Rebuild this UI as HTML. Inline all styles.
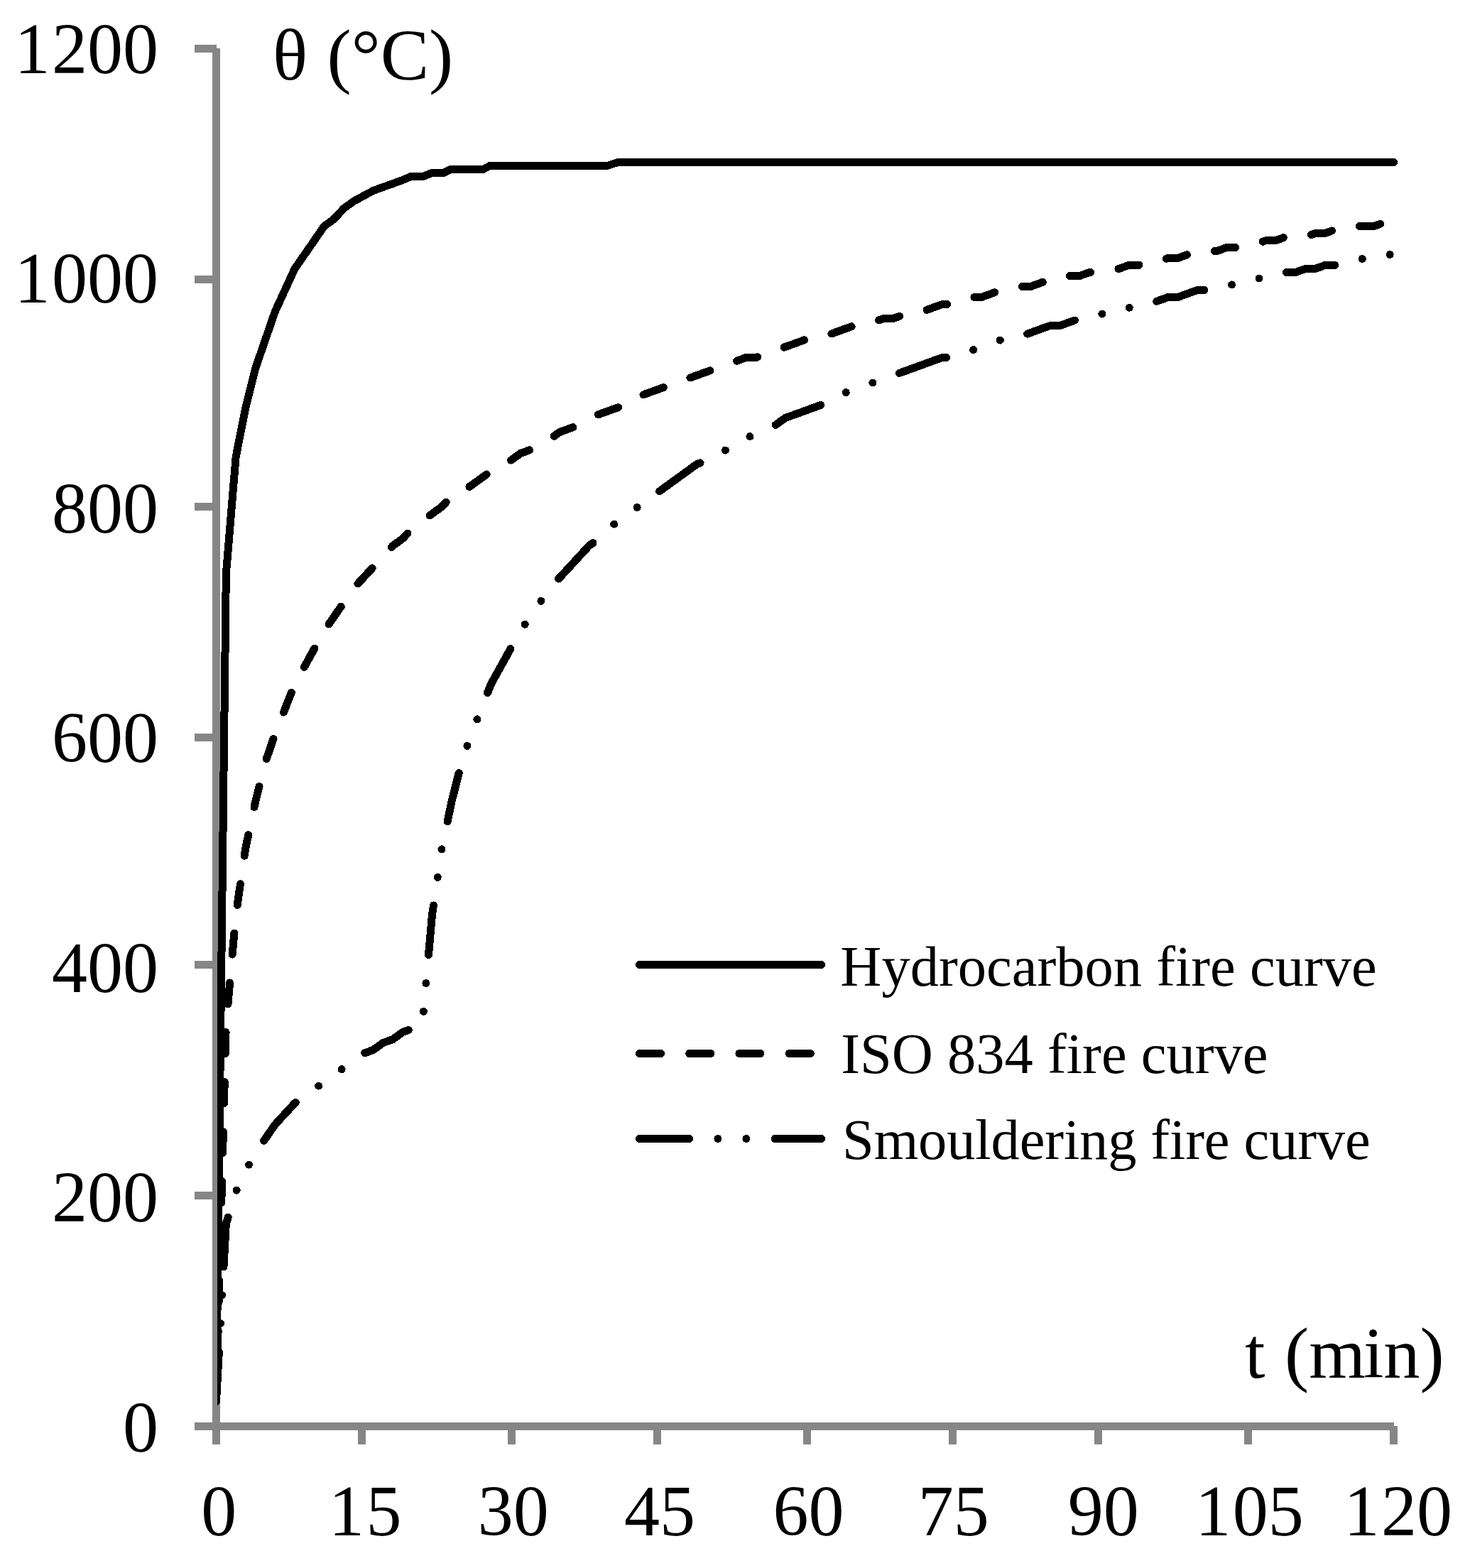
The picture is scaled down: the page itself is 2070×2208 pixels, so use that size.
<!DOCTYPE html>
<html lang="en">
<head>
<meta charset="utf-8">
<title>Fire curves</title>
<style>
html,body{margin:0;padding:0;background:#fff;}
body{width:2070px;height:2208px;overflow:hidden;}
svg{display:block;}
text{font-family:"Liberation Serif","DejaVu Serif",serif;fill:#000;}
.c{fill:none;stroke:#000;stroke-width:11;stroke-linecap:round;stroke-linejoin:miter;}
</style>
</head>
<body>
<svg width="2070" height="2208" viewBox="0 0 2070 2208">
<rect width="2070" height="2208" fill="#fff"/>
<g fill="#868686" shape-rendering="crispEdges">
<rect x="299" y="68" width="11" height="1966"/>
<rect x="274" y="2003" width="1689" height="11"/>
<rect x="274" y="63" width="31" height="11"/>
<rect x="274" y="388" width="31" height="11"/>
<rect x="274" y="708" width="31" height="11"/>
<rect x="274" y="1033" width="31" height="11"/>
<rect x="274" y="1353" width="31" height="11"/>
<rect x="274" y="1678" width="31" height="11"/>
<rect x="504" y="2008" width="11" height="26"/>
<rect x="715" y="2008" width="11" height="26"/>
<rect x="920" y="2008" width="11" height="26"/>
<rect x="1131" y="2008" width="11" height="26"/>
<rect x="1336" y="2008" width="11" height="26"/>
<rect x="1541" y="2008" width="11" height="26"/>
<rect x="1752" y="2008" width="11" height="26"/>
<rect x="1957" y="2008" width="11" height="26"/>
</g>
<defs><clipPath id="plot"><rect x="306" y="0" width="1764" height="2208"/></clipPath></defs>
<g clip-path="url(#plot)" shape-rendering="crispEdges">
<path class="c" d="M304.5,1973.5L318.32,808.5L332.13,643.5L345.95,573.5L359.77,518.5L373.58,478.5L387.4,438.5L401.22,408.5L415.03,378.5L428.85,358.5L442.67,338.5L456.48,318.5L470.3,308.5L484.12,293.5L497.93,283.5L511.75,276L525.57,268.5L539.38,263.5L553.2,258.5L567.02,253.5L578.7,248.5L595.8,248.5L608.3,243.5L624.3,243.5L634.7,238.5L680.3,238.5L689.8,233.5L854.9,233.5L870.2,228.5L1962.5,228.5"/>
<path class="c" stroke-dasharray="30 40" d="M304.5,1973.5L318.32,1443.5L332.13,1288.5L345.95,1193.5L359.77,1128.5L373.58,1073.5L387.4,1033.5L401.22,998.5L415.03,963.5L428.85,938.5L442.67,913.5L456.48,888.5L470.3,868.5L484.12,848.5L497.93,828.5L511.75,813.5L525.57,798.5L539.38,783.5L553.2,768.5L567.02,758.5L580.83,743.5L594.65,733.5L608.47,723.5L622.28,713.5L636.1,698.5L649.92,693.5L663.73,683.5L677.55,673.5L691.37,663.5L705.18,653.5L719,648.5L732.82,638.5L746.63,633.5L760.45,623.5L774.27,618.5L788.08,608.5L801.9,603.5L815.72,598.5L829.53,588.5L843.35,583.5L857.17,578.5L870.98,573.5L884.8,568.5L898.62,558.5L912.43,553.5L926.25,548.5L940.07,543.5L953.88,538.5L967.7,533.5L981.52,528.5L995.33,523.5L1009.15,518.5L1022.97,513.5L1036.78,508.5L1050.6,503.5L1064.42,503.5L1078.23,498.5L1092.05,493.5L1105.87,488.5L1119.68,483.5L1133.5,478.5L1147.32,478.5L1161.13,473.5L1174.95,468.5L1188.77,463.5L1202.58,458.5L1216.4,458.5L1230.22,453.5L1244.03,448.5L1257.85,448.5L1271.67,443.5L1285.48,438.5L1299.3,438.5L1313.12,433.5L1326.93,428.5L1340.75,428.5L1354.57,423.5L1368.38,418.5L1382.2,418.5L1396.02,413.5L1409.83,408.5L1423.65,408.5L1437.47,403.5L1451.28,403.5L1465.1,398.5L1478.92,393.5L1492.73,393.5L1506.55,388.5L1520.37,388.5L1534.18,383.5L1548,383.5L1561.82,378.5L1575.63,378.5L1589.45,373.5L1603.27,373.5L1617.08,368.5L1630.9,368.5L1644.72,363.5L1658.53,363.5L1672.35,358.5L1686.17,358.5L1699.98,353.5L1713.8,353.5L1727.62,348.5L1741.43,348.5L1755.25,343.5L1769.07,343.5L1782.88,338.5L1796.7,338.5L1810.52,333.5L1838.15,333.5L1851.97,328.5L1865.78,328.5L1879.6,323.5L1893.42,323.5L1907.23,318.5L1934.87,318.5L1948.68,313.5L1962.5,313.5"/>
<path class="c" stroke-dasharray="70 40 0 40 0 40" d="M304.5,1973.5L318.32,1723.5L332.13,1678.5L345.95,1648.5L359.77,1623.5L373.58,1603.5L387.4,1583.5L401.22,1568.5L415.03,1553.5L428.85,1543.5L442.67,1533.5L456.48,1523.5L470.3,1513.5L484.12,1503.5L497.93,1493.5L511.75,1483.5L525.57,1478.5L539.38,1468.5L553.2,1463.5L567.02,1453.5L580.83,1448.5L594.65,1443.5L608.47,1288.5L622.28,1193.5L636.1,1128.5L649.92,1073.5L663.73,1033.5L677.55,998.5L691.37,963.5L705.18,938.5L719,913.5L732.82,888.5L746.63,868.5L760.45,848.5L774.27,828.5L788.08,813.5L801.9,798.5L815.72,783.5L829.53,768.5L843.35,758.5L857.17,743.5L870.98,733.5L884.8,723.5L898.62,713.5L912.43,698.5L926.25,693.5L940.07,683.5L953.88,673.5L967.7,663.5L981.52,653.5L995.33,648.5L1009.15,638.5L1022.97,633.5L1036.78,623.5L1050.6,618.5L1064.42,608.5L1078.23,603.5L1092.05,598.5L1105.87,588.5L1119.68,583.5L1133.5,578.5L1147.32,573.5L1161.13,568.5L1174.95,558.5L1188.77,553.5L1202.58,548.5L1216.4,543.5L1230.22,538.5L1244.03,533.5L1257.85,528.5L1271.67,523.5L1285.48,518.5L1299.3,513.5L1313.12,508.5L1326.93,503.5L1340.75,503.5L1354.57,498.5L1368.38,493.5L1382.2,488.5L1396.02,483.5L1409.83,478.5L1423.65,478.5L1437.47,473.5L1451.28,468.5L1465.1,463.5L1478.92,458.5L1492.73,458.5L1506.55,453.5L1520.37,448.5L1534.18,448.5L1548,443.5L1561.82,438.5L1575.63,438.5L1589.45,433.5L1603.27,428.5L1617.08,428.5L1630.9,423.5L1644.72,418.5L1658.53,418.5L1672.35,413.5L1686.17,408.5L1699.98,408.5L1713.8,403.5L1727.62,403.5L1741.43,398.5L1755.25,393.5L1769.07,393.5L1782.88,388.5L1796.7,388.5L1810.52,383.5L1824.33,383.5L1838.15,378.5L1851.97,378.5L1865.78,373.5L1879.6,373.5L1893.42,368.5L1907.23,368.5L1921.05,363.5L1934.87,363.5L1948.68,358.5L1962.5,358.5"/>
</g>
<g shape-rendering="crispEdges">
<line class="c" x1="900.5" y1="1358.5" x2="1156.5" y2="1358.5"/>
<line class="c" stroke-dasharray="30.09 40.12" x1="900.5" y1="1483.5" x2="1156.5" y2="1483.5"/>
<line class="c" stroke-dasharray="70.21 40.12 0 40.12 0 40.12" x1="900.5" y1="1603.5" x2="1156.5" y2="1603.5"/>
</g>
<text transform="translate(23,102.8) scale(1,1.02)" dx="-2.5 2.5" style="font-size:100px;">1200</text>
<text transform="translate(23,426.28) scale(1,1.02)" dx="-2.5 2.5" style="font-size:100px;">1000</text>
<text transform="translate(73,749.76) scale(1,1.02)" style="font-size:100px;">800</text>
<text transform="translate(73,1073.24) scale(1,1.02)" style="font-size:100px;">600</text>
<text transform="translate(73,1396.72) scale(1,1.02)" style="font-size:100px;">400</text>
<text transform="translate(73,1720.2) scale(1,1.02)" style="font-size:100px;">200</text>
<text transform="translate(173,2043.68) scale(1,1.02)" style="font-size:100px;">0</text>
<text transform="translate(283.3,2161.7) scale(1,1.02)" style="font-size:100px;">0</text>
<text transform="translate(465.4,2161.7) scale(1,1.02)" dx="-2.5 2.5" style="font-size:100px;">15</text>
<text transform="translate(672.7,2161.7) scale(1,1.02)" style="font-size:100px;">30</text>
<text transform="translate(879,2161.7) scale(1,1.02)" style="font-size:100px;">45</text>
<text transform="translate(1088.4,2161.7) scale(1,1.02)" style="font-size:100px;">60</text>
<text transform="translate(1292.8,2161.7) scale(1,1.02)" style="font-size:100px;">75</text>
<text transform="translate(1503.7,2161.7) scale(1,1.02)" style="font-size:100px;">90</text>
<text transform="translate(1685.8,2161.7) scale(1,1.02)" dx="-2.5 2.5" style="font-size:100px;">105</text>
<text transform="translate(1895.1,2161.7) scale(1,1.02)" dx="-2.5 2.5" style="font-size:100px;">120</text>
<text x="383.9" y="111.9" style="font-size:102.5px;word-spacing:2px;">θ (°C)</text>
<text x="1752.9" y="1939.6" dx="0 0 3 0 -3" style="font-size:102.5px;word-spacing:-1px;">t (min)</text>
<text x="1183.3" y="1388.2" style="font-size:80.5px;">Hydrocarbon fire curve</text>
<text x="1184.2" y="1510.7" style="font-size:80.5px;">ISO 834 fire curve</text>
<text x="1186" y="1632.3" style="font-size:80.5px;letter-spacing:-0.143px;">Smouldering fire curve</text>
</svg>
</body>
</html>
